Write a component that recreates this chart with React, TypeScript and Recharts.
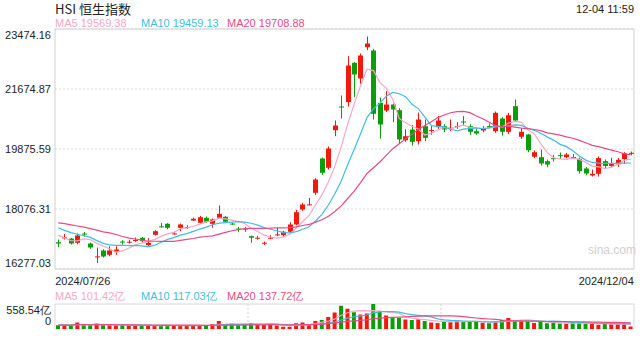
import React from 'react';
import { ComposedChart, Bar, Line, XAxis, YAxis, CartesianGrid, ReferenceArea, Cell } from 'recharts';

const tradeDates: string[] = [
  '2024/07/26','2024/07/29','2024/07/30','2024/07/31','2024/08/01','2024/08/02','2024/08/05','2024/08/06','2024/08/07','2024/08/08',
  '2024/08/09','2024/08/12','2024/08/13','2024/08/14','2024/08/15','2024/08/16','2024/08/19','2024/08/20','2024/08/21','2024/08/22',
  '2024/08/23','2024/08/26','2024/08/27','2024/08/28','2024/08/29','2024/08/30','2024/09/02','2024/09/03','2024/09/04','2024/09/05',
  '2024/09/06','2024/09/09','2024/09/10','2024/09/11','2024/09/12','2024/09/13','2024/09/16','2024/09/19','2024/09/20','2024/09/23',
  '2024/09/24','2024/09/25','2024/09/26','2024/09/27','2024/09/30','2024/10/02','2024/10/03','2024/10/04','2024/10/07','2024/10/08',
  '2024/10/09','2024/10/10','2024/10/14','2024/10/15','2024/10/16','2024/10/17','2024/10/18','2024/10/21','2024/10/22','2024/10/23',
  '2024/10/24','2024/10/25','2024/10/28','2024/10/29','2024/10/30','2024/10/31','2024/11/01','2024/11/04','2024/11/05','2024/11/06',
  '2024/11/07','2024/11/08','2024/11/11','2024/11/12','2024/11/13','2024/11/14','2024/11/15','2024/11/18','2024/11/19','2024/11/20',
  '2024/11/21','2024/11/22','2024/11/25','2024/11/26','2024/11/27','2024/11/28','2024/11/29','2024/12/02','2024/12/03','2024/12/04',
];

const opens: number[] = [
  17080,17210,17190,17063,17340,17042,16640,16832,16703,16781,
  17100,17085,17135,17213,16990,17303,17555,17633,17335,17513,
  17525,17732,17663,17812,17633,17812,17842,17640,17490,17490,
  17261,17205,17055,17205,17305,17291,17393,17612,18061,18205,
  18562,19591,19312,20439,21150,21280,22461,21990,22928,22829,
  21261,21030,21210,21039,20139,20460,20109,20559,20430,20529,
  20559,20505,20555,20700,20559,20409,20430,20565,20409,20790,
  20391,21159,20241,20310,19642,19630,19510,19600,19690,19630,
  19635,19582,19291,19081,19132,19510,19366,19420,19570,19745,
];
const highs: number[] = [
  17160,17330,17210,17340,17390,17070,16920,16870,16960,16960,
  17140,17150,17220,17240,17200,17440,17663,17650,17400,17640,
  17590,17820,17870,17850,17790,18180,17870,17660,17540,17540,
  17280,17270,17100,17290,17513,17420,17680,18050,18260,18410,
  19000,19620,19950,20730,21480,22660,22480,22740,23249,22880,
  21420,21610,21240,21100,20470,20600,20970,20760,20560,20870,
  20620,20760,20680,20860,20620,20470,20560,20640,21000,20830,
  20960,21360,20490,20330,19830,19860,19560,19700,19770,19760,
  19730,19620,19340,19260,19650,19560,19610,19610,19780,19800,
];
const lows: number[] = [
  16930,17160,17010,17020,17250,16880,16460,16620,16660,16700,
  17010,17040,17090,17080,16950,17280,17520,17470,17310,17411,
  17480,17720,17640,17660,17513,17790,17660,17600,17380,17390,
  17063,17160,17000,17180,17260,17230,17350,17590,18020,18190,
  18500,19100,19260,20259,20790,21150,21429,21830,22840,20760,
  20190,20980,20680,20050,20090,19980,20010,20109,20300,20480,
  20380,20409,20480,20590,20300,20300,20380,20500,20360,20280,
  20330,20680,20180,19780,19600,19380,19330,19500,19580,19600,
  19580,19140,19090,19050,19050,19290,19320,19340,19430,19690,
];
const closes: number[] = [
  17040,17225,17040,17282,17325,16922,16655,16652,16832,16862,
  17090,17095,17145,17111,17063,17411,17545,17513,17345,17612,
  17535,17783,17830,17693,17762,17932,17693,17630,17480,17480,
  17213,17215,17065,17215,17315,17393,17612,17980,18211,18215,
  18961,19162,19891,20580,21140,22380,22110,22679,23039,20931,
  20610,21210,21060,20160,20259,20091,20760,20211,20445,20730,
  20460,20515,20565,20690,20391,20340,20481,20555,20961,20391,
  20889,20730,20391,19840,19780,19441,19411,19591,19681,19711,
  19625,19210,19141,19132,19603,19366,19423,19550,19746,19761,
];
// closes of the 19 sessions before the first visible day (for the moving averages)
const priorCloses: number[] = [
  17719,17769,17979,18028,17800,17524,17702,17472,17832,18293,
  18016,17727,17739,17778,17417,17636,17469,17311,17005,
];
// turnover, 亿
const volumes: number[] = [
  85,85,85,144,85,85,122,85,85,85,
  85,78,78,70,85,70,78,78,78,78,
  78,78,78,85,111,178,85,122,85,115,
  133,100,100,100,78,48,48,130,144,100,
  178,200,270,366,522,455,377,322,344,558,
  396,303,244,244,211,200,218,178,148,133,
  178,159,192,170,159,170,137,126,178,200,
  244,200,178,192,133,155,126,133,122,115,
  155,155,115,115,96,115,111,115,115,55,
];

const priceTicks: number[] = [23474.16, 21674.87, 19875.59, 18076.31, 16277.03];
const volumeTicks: number[] = [558.54, 0];
const priceMaLegend: number[] = [19569.38, 19459.13, 19708.88];
const volumeMaLegend: number[] = [101.42, 117.03, 137.72];
const maPeriods: number[] = [5, 10, 20];
const titleText = 'HSI 恒生指数';
const timeText = '12-04 11:59';

const RED = '#f2190c';
const GREEN = '#0b9e0b';
const MA_COLORS = ['#f8a6c4', '#3cbfe0', '#ea4a84'];
const FONT = '"Liberation Sans", Arial, Helvetica, sans-serif';

const allCloses = [...priorCloses, ...closes];
const movingAvg = (series: number[], n: number, lead: number) =>
  series.slice(lead).map((_, i) => {
    const end = i + lead;
    const start = Math.max(0, end - n + 1);
    const win = series.slice(start, end + 1);
    return win.reduce((a, b) => a + b, 0) / win.length;
  });

const pMa = maPeriods.map((n) => movingAvg(allCloses, n, priorCloses.length));
const vMa = maPeriods.map((n) => movingAvg(volumes, n, 0));

const data = tradeDates.map((date, i) => ({
  date,
  open: opens[i],
  high: highs[i],
  low: lows[i],
  close: closes[i],
  range: [lows[i], highs[i]],
  volume: volumes[i],
  up: closes[i] >= opens[i],
  ma5: pMa[0][i],
  ma10: pMa[1][i],
  ma20: pMa[2][i],
  vma5: vMa[0][i],
  vma10: vMa[1][i],
  vma20: vMa[2][i],
}));

const Candle = (props: any) => {
  const { x, y, width, height, payload } = props;
  if (x == null || y == null) return null;
  const yTop = Math.min(y, y + height);
  const h = Math.abs(height);
  const { open, close, high, low } = payload;
  const color = close >= open ? RED : GREEN;
  const cx = Math.round(x + width / 2) + 0.5;
  const rng = high - low;
  const py = (v: number) => (rng === 0 ? yTop : yTop + ((high - v) / rng) * h);
  const bTop = py(Math.max(open, close));
  const bBot = py(Math.min(open, close));
  const bw = 5;
  return (
    <g>
      <line x1={cx} x2={cx} y1={yTop} y2={yTop + h} stroke={color} strokeWidth={1} />
      <rect x={cx - bw / 2} y={bTop} width={bw} height={Math.max(bBot - bTop, 1)} fill={color} />
    </g>
  );
};

const PriceTick = (props: any) => {
  const { x, y, payload, index } = props;
  const last = priceTicks.length - 1;
  const dy = index === 0 ? 6 : index === last ? -6 : 0;
  return (
    <text x={x} y={y + dy} textAnchor="end" dominantBaseline="central" fontSize={11} fill="#222" fontFamily={FONT}>
      {payload.value.toFixed(2)}
    </text>
  );
};

const VolTick = (props: any) => {
  const { x, y, payload } = props;
  const top = payload.value > 0;
  return (
    <text x={x} y={y + (top ? 6 : -8)} textAnchor="end" dominantBaseline="central" fontSize={11} fill="#222" fontFamily={FONT}>
      {top ? `${payload.value.toFixed(2)}亿` : '0'}
    </text>
  );
};

const DateTick = (props: any) => {
  const { x, y, payload, index } = props;
  const first = index === 0;
  return (
    <text x={first ? x - 3 : x + 3} y={y + 4} textAnchor={first ? 'start' : 'end'} dominantBaseline="central" fontSize={11} fill="#222" fontFamily={FONT}>
      {payload.value}
    </text>
  );
};

const Legend = ({ values, suffix, top }: { values: number[]; suffix: string; top: number }) => (
  <>
    {values.map((v, i) => (
      <div
        key={i}
        style={{
          position: 'absolute', left: [55, 141, 227][i], top, fontSize: 11, fontFamily: FONT,
          color: MA_COLORS[i], whiteSpace: 'nowrap', lineHeight: '11px',
        }}
      >
        {`MA${maPeriods[i]} ${v.toFixed(2)}${suffix}`}
      </div>
    ))}
  </>
);

export default function App() {
  return (
    <div style={{ position: 'absolute', left: 0, top: 0, width: 640, height: 360, background: '#fff', overflow: 'hidden' }}>
      <div style={{ position: 'absolute', left: 55, top: 2, fontSize: 13, fontFamily: '"Noto Sans CJK SC", "Liberation Sans", sans-serif', color: '#222', lineHeight: '14px' }}>
        {titleText}
      </div>
      <div style={{ position: 'absolute', right: 6, top: 3, fontSize: 11, fontFamily: FONT, color: '#222', lineHeight: '12px' }}>
        {timeText}
      </div>
      <Legend values={priceMaLegend} suffix="" top={18} />
      <div style={{ position: 'absolute', left: 0, top: 0 }}>
        <ComposedChart width={640} height={289} data={data} margin={{ top: 29, right: 6, left: 0, bottom: 0 }} barCategoryGap={1}>
          <CartesianGrid vertical={false} stroke="#dcdcdc" strokeDasharray="2 2" />
          <XAxis
            dataKey="date"
            type="category"
            axisLine={false}
            tickLine={false}
            height={20}
            interval={0}
            ticks={[tradeDates[0], tradeDates[tradeDates.length - 1]]}
            tick={<DateTick />}
          />
          <YAxis
            domain={[priceTicks[priceTicks.length - 1], priceTicks[0]]}
            ticks={priceTicks}
            width={55}
            axisLine={false}
            tickLine={false}
            tickSize={0}
            tickMargin={4}
            interval={0}
            allowDataOverflow
            tick={<PriceTick />}
          />
          <ReferenceArea y1={priceTicks[priceTicks.length - 1]} y2={priceTicks[0]} fill="none" stroke="#d0d0d0" strokeWidth={1} />
          <Bar dataKey="range" shape={<Candle />} isAnimationActive={false} />
          <Line dataKey="ma5" stroke={MA_COLORS[0]} strokeWidth={1.2} dot={false} isAnimationActive={false} />
          <Line dataKey="ma10" stroke={MA_COLORS[1]} strokeWidth={1.2} dot={false} isAnimationActive={false} />
          <Line dataKey="ma20" stroke={MA_COLORS[2]} strokeWidth={1.2} dot={false} isAnimationActive={false} />
        </ComposedChart>
      </div>
      <div style={{ position: 'absolute', left: 588, top: 243, fontSize: 12, fontFamily: FONT, color: '#cfcfcf' }}>sina.com</div>
      <Legend values={volumeMaLegend} suffix="亿" top={291} />
      <div style={{ position: 'absolute', left: 0, top: 290 }}>
        <ComposedChart width={640} height={45} data={data} margin={{ top: 14, right: 6, left: 0, bottom: 6 }} barCategoryGap={1}>
          <CartesianGrid
            horizontal={false}
            stroke="#cfcfcf"
            strokeDasharray="2 2"
            verticalCoordinatesGenerator={(p: any) => {
              const o = p.offset;
              return [o.left + o.width / 3, o.left + (2 * o.width) / 3];
            }}
          />
          <XAxis dataKey="date" type="category" hide />
          <YAxis
            domain={[0, volumeTicks[0]]}
            ticks={volumeTicks}
            width={55}
            axisLine={false}
            tickLine={false}
            tickSize={0}
            tickMargin={4}
            interval={0}
            allowDataOverflow
            tick={<VolTick />}
          />
          <ReferenceArea y1={0} y2={volumeTicks[0]} fill="none" stroke="#d8d8d8" strokeWidth={1} />
          <Bar dataKey="volume" barSize={4} isAnimationActive={false}>
            {data.map((d, i) => (
              <Cell key={i} fill={d.up ? RED : GREEN} />
            ))}
          </Bar>
          <Line dataKey="vma5" stroke={MA_COLORS[0]} strokeWidth={1.2} dot={false} isAnimationActive={false} />
          <Line dataKey="vma10" stroke={MA_COLORS[1]} strokeWidth={1.2} dot={false} isAnimationActive={false} />
          <Line dataKey="vma20" stroke={MA_COLORS[2]} strokeWidth={1.2} dot={false} isAnimationActive={false} />
        </ComposedChart>
      </div>
    </div>
  );
}
